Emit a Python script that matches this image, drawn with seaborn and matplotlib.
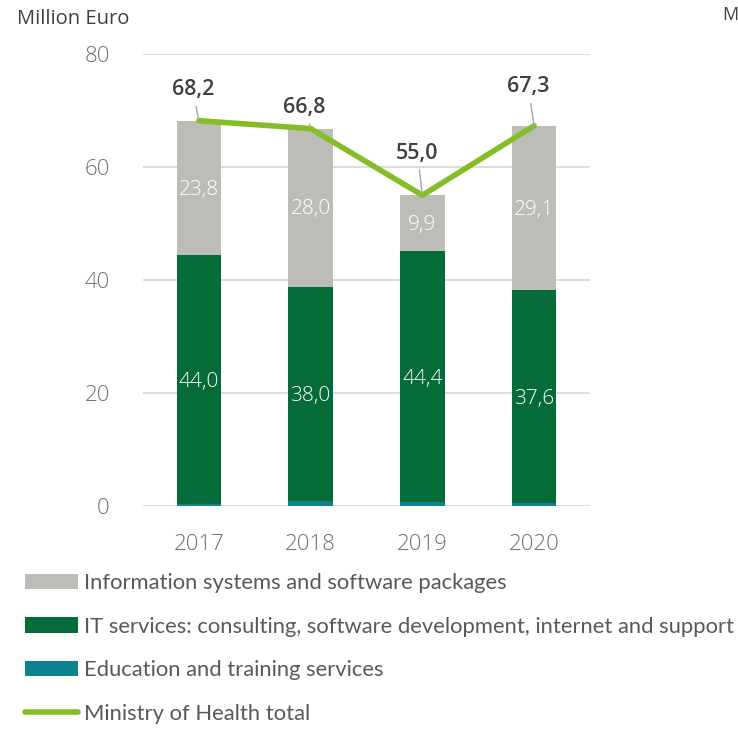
import numpy as np
import pandas as pd
import seaborn as sns
import matplotlib.pyplot as plt
from matplotlib.patches import Patch
from matplotlib.lines import Line2D

years = ["2017", "2018", "2019", "2020"]
education = [0.4, 0.8, 0.7, 0.6]
it_services = [44.0, 38.0, 44.4, 37.6]
info_systems = [23.8, 28.0, 9.9, 29.1]
totals = [68.2, 66.8, 55.0, 67.3]

labels = [
    "Information systems and software packages",
    "IT services: consulting, software development, internet and support",
    "Education and training services",
    "Ministry of Health total",
]
c_info = "#BDBDB8"
c_it = "#056B39"
c_edu = "#0E828F"
c_line = "#84BD25"

sns.set_theme(style="white")
plt.rcParams["font.family"] = ["Open Sans", "DejaVu Sans"]

fig = plt.figure(figsize=(7.38, 7.31), dpi=100)
ax = fig.add_axes([143 / 738, 1 - 506 / 731, 447 / 738, 452 / 731])

df = pd.DataFrame({"year": years, "edu": education, "it": it_services, "info": info_systems})
bottom_it = np.array(education)
bottom_info = bottom_it + np.array(it_services)

bar_kw = dict(width=0.4, saturation=1, ax=ax, zorder=2, linewidth=0)
sns.barplot(data=df, x="year", y="edu", color=c_edu, **bar_kw)
sns.barplot(data=df, x="year", y="it", bottom=bottom_it, color=c_it, **bar_kw)
sns.barplot(data=df, x="year", y="info", bottom=bottom_info, color=c_info, **bar_kw)

xs = np.arange(len(years))
sns.lineplot(x=xs, y=totals, color=c_line, linewidth=4, ax=ax, zorder=4, solid_capstyle="round")

# segment labels, centered in each block
for i in xs:
    ax.text(i, bottom_it[i] + it_services[i] / 2 - 0.4, f"{it_services[i]:.1f}".replace(".", ","),
            ha="center", va="center", color="white", fontsize=15, fontweight="light", zorder=5)
    ax.text(i, bottom_info[i] + info_systems[i] / 2 - 0.3, f"{info_systems[i]:.1f}".replace(".", ","),
            ha="center", va="center", color="white", fontsize=15, fontweight="light", zorder=5)

# total labels with leader lines
offsets = [(-6, 31), (-6, 21), (-5, 42), (-6, 39)]
for i, (dx, dy) in zip(xs, offsets):
    ax.annotate(f"{totals[i]:.1f}".replace(".", ","), xy=(i, totals[i]), xytext=(dx, dy),
                textcoords="offset pixels", ha="center", va="center", fontsize=15.5,
                color="#404040", fontweight="semibold", zorder=6,
                arrowprops=dict(arrowstyle="-", color="#A6A6A6", lw=1, shrinkA=2, shrinkB=0))

ax.set_ylim(0, 80)
ax.set_xlim(-0.5, 3.5)
ax.set_yticks([0, 20, 40, 60, 80])
ax.yaxis.grid(True, color="#D9D9D9", linewidth=1.3, zorder=0)
ax.set_axisbelow(True)
for s in ax.spines.values():
    s.set_visible(False)
ax.tick_params(axis="both", length=0, labelsize=16, labelcolor="#707070")
for t in ax.get_xticklabels() + ax.get_yticklabels():
    t.set_fontweight("light")
ax.tick_params(axis="y", pad=24)
ax.tick_params(axis="x", pad=20)
ax.set_xlabel("")
ax.set_ylabel("")

fig.text(17 / 738, 1 - 19 / 731, "Million Euro", fontsize=14.5, color="#404040", va="center", ha="left")
fig.text(722 / 738, 1 - 15 / 731, "M", fontsize=13, color="#404040", va="center", ha="left")

handles = [
    Patch(facecolor=c_info, edgecolor="none"),
    Patch(facecolor=c_it, edgecolor="none"),
    Patch(facecolor=c_edu, edgecolor="none"),
    Line2D([0], [0], color=c_line, linewidth=4, solid_capstyle="round"),
]
leg = fig.legend(handles, labels, loc="upper left", bbox_to_anchor=(25 / 738, 1 - 573 / 731),
                 frameon=False, fontsize=15.8, handlelength=2.4, handleheight=0.7,
                 handletextpad=0.3, labelspacing=1.08, borderpad=0, borderaxespad=0)
for t in leg.get_texts():
    t.set_color("#595959")
    t.set_fontfamily(["Lato", "DejaVu Sans"])

fig.savefig("out.png", dpi=100)
